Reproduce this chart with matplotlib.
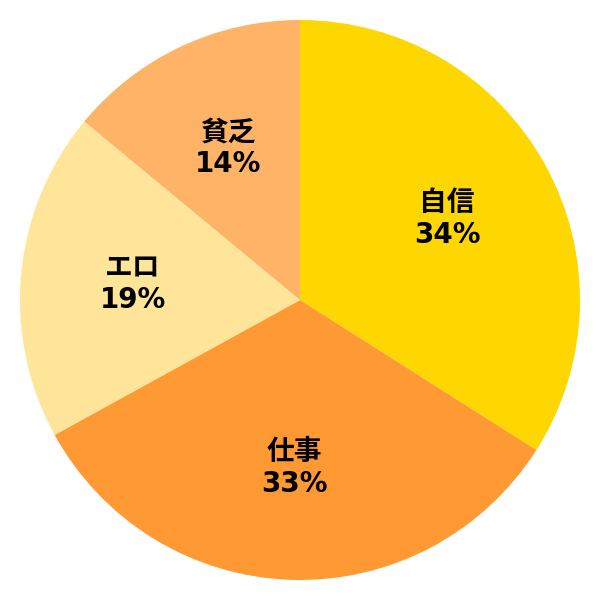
import matplotlib
matplotlib.use('Agg')
import matplotlib.pyplot as plt
import numpy as np

labels = ['自信', '仕事', 'エロ', '貧乏']
values = [34, 33, 19, 14]
colors = ['#FFD700', '#FF9933', '#FFE599', '#FFB366']

plt.rcParams['font.family'] = ['DejaVu Sans', 'Noto Sans CJK JP']

fig = plt.figure(figsize=(6, 6), dpi=100)
ax = fig.add_axes([0, 0, 1, 1])

wedges, texts = ax.pie(values, colors=colors, startangle=90, counterclock=False,
                       radius=1.0, wedgeprops={'linewidth': 0})

# labels inside the wedges
total = sum(values)
start = 90.0
for lab, v in zip(labels, values):
    mid = np.deg2rad(start - v / total * 360 / 2)
    start -= v / total * 360
    ax.text(0.6 * np.cos(mid), 0.6 * np.sin(mid), '%s\n%d%%' % (lab, v),
            ha='center', va='center', fontsize=20, fontweight='bold',
            linespacing=1.15)

lim = 300 / 280
ax.set_xlim(-lim, lim)
ax.set_ylim(-lim, lim)
ax.set_aspect('equal')
ax.axis('off')

fig.savefig('out.png', dpi=100)
